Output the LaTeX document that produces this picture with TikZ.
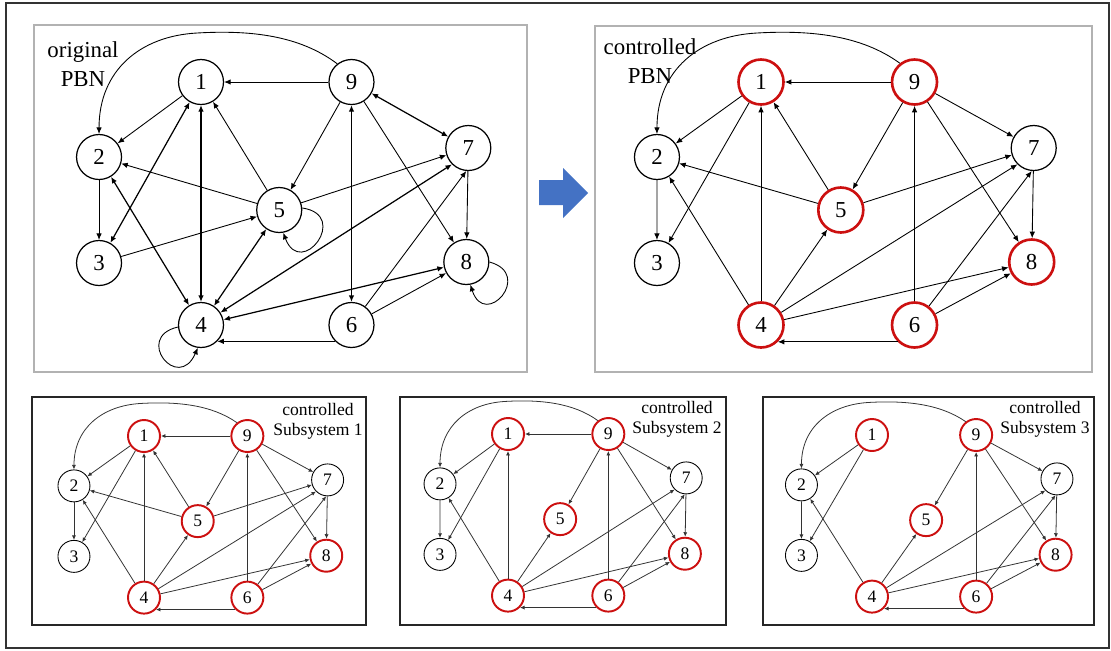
\documentclass[tikz,border=0pt]{standalone}
\usepackage{fontspec}
\setmainfont{Liberation Serif}
\usetikzlibrary{arrows.meta}

\definecolor{pbnred}{RGB}{204,16,16}
\definecolor{pbnblue}{RGB}{68,114,196}

\tikzset{
  bigpanel/.style={
    >={Latex[length=1.3mm,width=1.1mm]},
    pnode/.style={circle, draw, inner sep=0pt, minimum size=0.9cm, line width=0.7pt, font=\fontsize{13}{13}\selectfont},
    rnode/.style={draw=pbnred, line width=1.5pt},
    pbnarrow/.style={->, line width=0.5pt}},
  smallpanel/.style={
    >={Latex[length=0.9mm,width=0.8mm]},
    pnode/.style={circle, draw, inner sep=0pt, minimum size=0.64cm, line width=0.5pt, font=\fontsize{10}{10}\selectfont},
    rnode/.style={draw=pbnred, line width=1.1pt},
    pbnarrow/.style={->, line width=0.45pt, black!80}},
  topframe/.style={draw=gray!60, line width=1.5pt},
  subframe/.style={draw=black!85, line width=0.8pt},
  toplabel/.style={align=center, inner sep=0pt, font=\fontsize{13}{16.2}\selectfont},
  sublabel/.style={align=center, inner sep=0pt, font=\fontsize{10}{11.4}\selectfont}
}

\newcommand{\pbnnodes}[2]{%
  \node[pnode,#2] (#1-1) at (0,0) {1};
  \node[pnode,#2] (#1-9) at (152,0) {9};
  \node[pnode] (#1-2) at (-103,75) {2};
  \node[pnode] (#1-7) at (270,66) {7};
  \node[pnode,#2] (#1-5) at (79,128) {5};
  \node[pnode] (#1-3) at (-103,181) {3};
  \node[pnode,#2] (#1-8) at (268,180) {8};
  \node[pnode,#2] (#1-4) at (0,243) {4};
  \node[pnode,#2] (#1-6) at (152,243) {6};
}

\newcommand{\pbnarc}[1]{%
  \draw[pbnarrow] (#1-9.128) .. controls (99,-47) and (49,-52) .. (-4,-49)
    .. controls (-61,-46) and (-103,-12) .. (#1-2.north);
}

\newcommand{\ctrledges}[1]{%
  \foreach \a/\b in {1/2,1/3,9/5,2/3,4/2,4/5,4/8,6/9,9/7,9/8,7/8,6/8}
    \draw[pbnarrow] (#1-\a) -- (#1-\b);
  \draw[pbnarrow] (#1-4) -- (#1-7.225);
  \draw[pbnarrow] (#1-6) -- (#1-7.265);
  \draw[pbnarrow] (#1-6.225) -- (#1-4.315);
  \pbnarc{#1}
}

\begin{document}
\begin{tikzpicture}[x=0.02cm, y=-0.02cm]
        \useasboundingbox (0,0) rectangle (1111,650);
        \draw[black!80, line width=0.8pt] (6,3) rectangle (1109,648);
        \draw[topframe] (34,25) rectangle (527,372);
        \draw[topframe] (595,26) rectangle (1092,372);
        \draw[subframe] (32,397) rectangle (366,625);
        \draw[subframe] (400,397) rectangle (726,625);
        \draw[subframe] (763,397) rectangle (1094,625);
        \fill[pbnblue] (539,180) -- (563,180) -- (563,168) -- (588,193) -- (563,218) -- (563,205) -- (539,205) -- cycle;

        \node[toplabel] (olabel) at (83,64) {original\\PBN};
        \node[toplabel] (clabel) at (650,61) {controlled\\PBN};
        \node[sublabel] (alabel) at (318,421) {controlled\\Subsystem 1};
        \node[sublabel] (blabel) at (677,419) {controlled\\Subsystem 2};
        \node[sublabel] (dlabel) at (1045,419) {controlled\\Subsystem 3};

        \begin{scope}[shift={(201,82)}, xscale=0.99, bigpanel]
                \pbnnodes{o}{}
                \foreach \a/\b in {9/1,1/2,5/1,9/5,5/2,5/7,2/3,3/5,9/8,7/8,6/8}
                        \draw[pbnarrow] (o-\a) -- (o-\b);
                \foreach \a/\b in {1/3,1/4,2/4,4/5,4/8,6/9,9/7}
                        \draw[pbnarrow, <->, line width=0.7pt] (o-\a) -- (o-\b);
                \draw[pbnarrow, <->, line width=0.7pt] (o-4) -- (o-7.225);
                \draw[pbnarrow] (o-6) -- (o-7.265);
                \draw[pbnarrow] (o-6.225) -- (o-4.315);
                \pbnarc{o}
                \draw[pbnarrow] (o-5.5) .. controls +(49,7) and +(18,47) .. (o-5.280);
                \draw[pbnarrow] (o-4.185) .. controls +(-45,10) and +(-20,45) .. (o-4.262);
                \draw[pbnarrow] (o-8.0) .. controls +(45,12) and +(15,45) .. (o-8.280);
        \end{scope}

        \begin{scope}[shift={(761,82)}, xscale=1.01, bigpanel]
                \pbnnodes{c}{rnode}
                \ctrledges{c}
                \foreach \a/\b in {9/1,4/1,5/1,5/2,5/7}
                        \draw[pbnarrow] (c-\a) -- (c-\b);
        \end{scope}

        \begin{scope}[shift={(144,436)}, xscale=0.68, yscale=0.665, smallpanel]
                \pbnnodes{a}{rnode}
                \ctrledges{a}
                \foreach \a/\b in {9/1,4/1,5/1,5/2,5/7}
                        \draw[pbnarrow] (a-\a) -- (a-\b);
        \end{scope}

        \begin{scope}[shift={(508,434)}, xscale=0.66, yscale=0.665, smallpanel]
                \pbnnodes{b}{rnode}
                \ctrledges{b}
                \foreach \a/\b in {9/1,4/1}
                        \draw[pbnarrow] (b-\a) -- (b-\b);
        \end{scope}

        \begin{scope}[shift={(872,435)}, xscale=0.685, yscale=0.665, smallpanel]
                \pbnnodes{d}{rnode}
                \ctrledges{d}
        \end{scope}
\end{tikzpicture}
\end{document}
